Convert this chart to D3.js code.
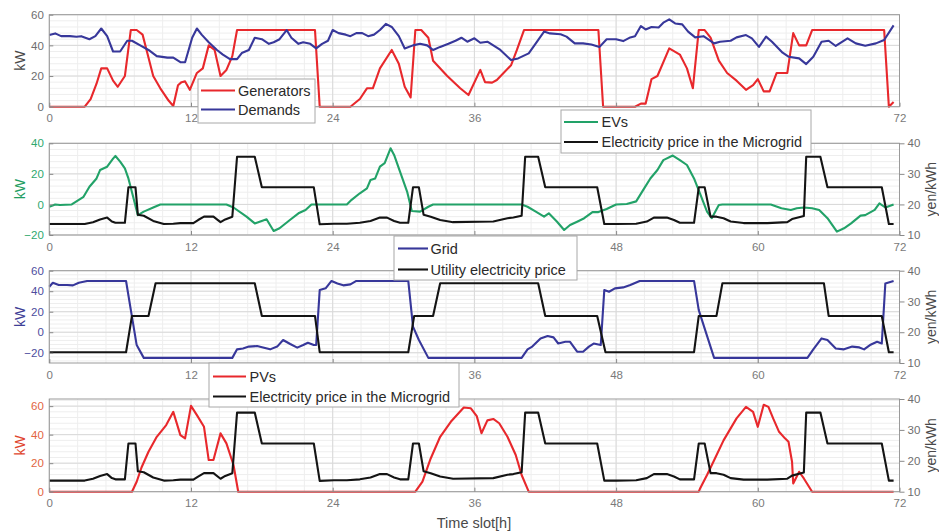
<!DOCTYPE html>
<html>
<head>
<meta charset="utf-8">
<script src="https://cdn.jsdelivr.net/npm/d3@7"></script>
<style>
  html, body { margin: 0; padding: 0; background: #fff; }
  svg { display: block; font-family: "Liberation Sans", Arial, Helvetica, sans-serif; }
</style>
</head>
<body>
<svg id="chart" width="939" height="531"></svg>
<script>
// ---- data: [time slot (h), value] ----
const xTicks = [0, 12, 24, 36, 48, 60, 72];

const generators = [[0,0],[3,0],[3.5,5],[4,15],[4.4,25],[4.9,25],[5.4,17],[5.8,13],[6.4,20],[6.9,50],[7.4,50],[7.9,47],[8.3,35],[8.8,20],[9.4,12],[10.1,4],[10.5,0.5],[10.9,14],[11.2,16],[11.5,16.5],[11.9,11],[12.5,22],[13,25],[13.5,40],[14,37],[14.5,20],[15,24],[15.5,33],[15.9,50],[22.5,50],[22.9,0],[25.5,0],[26.3,5],[26.9,12],[27.4,12],[28,25],[29,37],[29.6,28],[30.1,13],[30.6,6],[31,50],[31.5,50],[32.1,45],[32.5,30],[33.7,20],[34.8,12],[35.5,7.6],[36.5,24],[36.9,16],[37.5,15.7],[37.9,17.4],[39.1,27],[39.6,37],[40.2,50],[46.5,50],[46.9,0],[49.6,0],[50.1,2],[50.5,2],[51,18],[51.5,20],[52.5,38],[53.4,34],[54,25],[54.5,12],[55,50],[55.5,50],[56,45],[56.7,30],[57.4,22],[58.2,17],[59,11],[59.6,14],[60,18],[60.5,10],[61,10],[61.6,22],[62.5,22],[63,48],[63.5,40],[64.1,40],[64.6,50],[70.7,50],[71.1,0],[71.5,3]];

const demands = [[0,46.7],[0.5,47.8],[1,46],[1.75,46],[2.3,45.6],[2.7,46],[3.4,44],[3.9,46],[4.4,51],[4.9,46],[5.4,36],[6,36],[6.6,43],[7,43],[7.7,40],[8.4,37],[9.1,33],[10,32],[10.5,32],[11.1,29],[11.5,29],[12.1,45],[12.5,51],[12.9,47],[13.5,42],[14.2,37],[14.7,34],[15.3,31],[15.9,31],[16.3,35],[16.9,37],[17.4,45],[18,44],[18.6,41],[19,42],[19.5,44],[20.1,50],[20.5,45],[21.1,41],[21.5,42],[22.1,41],[22.6,38],[23.1,41],[23.6,43],[24,50],[24.5,48],[25.1,47],[25.5,46],[26,48],[26.5,48],[27,46],[27.5,47],[28,50],[28.5,54],[29,52],[29.6,46],[30.1,38],[30.8,40],[31.4,41],[32,40],[32.5,37],[33.1,39],[33.8,41],[34.4,43],[34.9,45],[35.4,42.4],[36,44.6],[36.5,41.7],[37.1,42.4],[37.6,40],[38.2,37],[39.1,30.4],[39.7,31.5],[40.6,34.8],[41.2,41.3],[41.9,49],[42.4,47.8],[43.3,47.2],[43.8,45.7],[44.5,41.3],[45.2,41.3],[45.9,40.6],[46.6,39],[47.2,44],[48,44],[48.6,42.8],[49.2,45.2],[49.6,46],[50.1,52.6],[50.5,50.4],[51,52],[51.6,51.7],[52,54.8],[52.5,57],[53,54.3],[53.6,53.7],[54.1,49],[54.7,45.2],[55.4,46],[56.3,41.3],[56.8,42.4],[57.7,43],[58.2,45.2],[59,46.7],[59.5,44.6],[60.1,39],[60.7,45.7],[61.2,42.4],[62.1,35.2],[62.6,32.6],[63.5,31.5],[64.1,27.8],[64.7,32.6],[65.4,42.4],[66,43],[66.6,39.6],[67.6,44.6],[68.3,41.3],[69.1,39.8],[70,41.3],[70.7,43.5],[71.5,53]];

const evs = [[0,-1.5],[0.5,0],[0.9,-0.4],[1.9,0],[2.3,2],[2.9,5],[3.4,11.6],[4,17],[4.3,22.5],[4.9,24.7],[5.4,30],[5.6,31.7],[6,28],[6.4,23.6],[6.7,17],[7.1,5],[7.5,-7],[8,-4.7],[8.8,-2],[9.4,0],[15,0],[15.6,-2],[16.7,-8],[17.4,-12.4],[18.4,-9.7],[19,-17.4],[19.5,-15.6],[20.4,-10],[21.1,-5.8],[21.7,-3.6],[22.2,0],[25.2,0],[25.6,3],[26.3,7.3],[26.9,10.5],[27.2,16],[27.6,17],[28,24.7],[28.4,27],[28.9,36.7],[29.2,32.4],[29.7,21.5],[30.3,8.4],[30.7,-4.3],[31.4,-4.7],[32.1,-1.5],[32.5,0],[40,0],[40.5,-1.5],[41.2,-4.7],[41.9,-8],[42.3,-5.8],[43,-11.3],[43.6,-16.7],[44.1,-13.5],[44.7,-11.3],[45.3,-9],[46,-5],[46.5,-5],[47.2,-3],[48,0],[48.9,0.3],[49.7,2],[50.3,9.5],[50.9,17],[51.5,22.5],[52,29],[52.8,32],[53.4,29],[54,25.8],[54.6,17],[55.1,7.3],[55.7,-4.7],[56.1,-9],[56.7,-0.4],[57,0],[61.1,0],[62,-2.5],[62.8,-3.6],[63.3,-2.5],[63.9,-2],[64.6,-2.5],[65.2,-3.6],[65.9,-9],[66.7,-17.8],[67.3,-15.6],[67.9,-12.4],[68.7,-7.3],[69.1,-7],[69.9,-3.6],[70.3,0.7],[70.8,-2],[71.5,0]];

const microgridPrice = [[0,13.6],[3,13.6],[3.7,14.2],[4.3,15.1],[4.9,15.7],[5.3,14.4],[5.6,14],[6.4,14],[6.7,25.6],[7.3,25.6],[7.5,16.6],[8,16.3],[8.8,14.6],[9.7,13.6],[10.5,13.7],[11.1,13.9],[12.2,13.9],[12.6,14.9],[13.1,16],[13.9,16],[14.5,14.2],[14.9,15.1],[15.5,16],[15.9,35.6],[17.4,35.6],[18,25.6],[22.4,25.6],[22.9,13.5],[24.1,13.7],[25.2,13.7],[26.3,14],[27.2,14.6],[28,15.7],[28.6,15.7],[29.2,14.6],[29.7,14],[30.4,14],[30.8,25.6],[31.3,25.6],[31.7,16.6],[32.3,16],[33.1,14.9],[34.2,14.2],[37.6,14.4],[38.8,15.5],[39.3,15.7],[40,16.3],[40.3,35.6],[41.4,35.6],[42,25.6],[46.4,25.6],[47,13.6],[48,13.6],[49.7,13.7],[50.6,14.4],[51.2,15.7],[52.3,15.7],[52.9,14.9],[53.4,14],[54.6,14],[55,25.6],[55.5,25.6],[56,16],[56.5,16],[57.1,15.5],[57.7,14.4],[58.8,13.9],[60.8,13.9],[62.5,14.2],[62.9,15.2],[63.9,16.2],[64.1,35.6],[65.3,35.6],[65.9,25.6],[70.5,25.6],[71.1,13.6],[71.5,13.6]];

const gridPower = [[0,44.4],[0.3,48.3],[0.8,46],[1.5,46],[2,45.7],[2.5,48.3],[3.2,49.9],[3.7,50],[6.5,50],[6.9,22],[7.4,-12.5],[8,-25],[15.5,-25],[15.9,-16.7],[16.4,-15.8],[16.9,-14],[17.6,-13.5],[18.1,-14.8],[18.7,-16.7],[19.3,-14],[19.8,-7.6],[20.4,-11.5],[21,-15],[21.5,-12.5],[21.9,-10.2],[22.4,-12.5],[22.6,-12.5],[22.9,41.1],[23.4,42.8],[23.9,50],[24.4,47.6],[24.9,45.7],[25.5,46.7],[26,50],[30.4,50],[30.8,5.4],[31.3,-7.6],[32.1,-25],[40,-25],[40.5,-16.7],[40.9,-14],[41.6,-6],[42.2,-3.7],[42.7,-5],[43.1,-11],[43.7,-9.3],[44.1,-9.3],[44.7,-19],[45.2,-19],[45.7,-14],[46.1,-11],[46.7,-12.5],[47,41.1],[47.4,39.5],[47.9,42.8],[48.6,43.7],[49.2,46],[50,50],[54.6,50],[55,21.6],[56.3,-25],[64.2,-25],[64.7,-16.7],[65.4,-6],[65.9,-7.6],[66.6,-15.8],[67.3,-16.7],[68,-14],[68.6,-14.8],[69,-16.7],[69.5,-12.5],[70.1,-9.3],[70.5,-11],[70.8,47.6],[71.5,50]];

const utilityPrice = [[0,13.5],[6.5,13.5],[7,25.3],[8.4,25.3],[9,35.9],[17.4,35.9],[18,25.3],[22.5,25.3],[22.9,13.5],[30.4,13.5],[30.9,25.3],[32.5,25.3],[33.1,35.9],[41.4,35.9],[42,25.3],[46.4,25.3],[47.1,13.5],[54.6,13.5],[55,25.3],[56.5,25.3],[57,35.9],[65.6,35.9],[66,25.3],[70.5,25.3],[71.1,13.5],[71.5,13.5]];

const pvs = [[0,0],[7,0],[7.4,7],[7.8,16.8],[8.4,28],[9.1,38.5],[9.9,46.7],[10.5,56],[11.1,39.7],[11.5,37.4],[12,60.2],[12.5,53.7],[13.1,45.5],[13.5,22.2],[13.9,22.2],[14.5,40.9],[15,33.9],[15.6,18.7],[16,0],[31,0],[31.6,7],[32.3,23.3],[33.1,38.5],[34,49],[35.1,59],[35.7,58.5],[36.2,53],[36.6,41],[37.1,50],[37.6,51],[38.1,48],[38.8,38.5],[39.5,25.7],[40,11.7],[40.6,0],[55,0],[55.1,2],[55.7,11.7],[56.3,22],[57.1,36],[58.2,51.4],[59,59.5],[59.6,56],[60,45.5],[60.5,61],[60.9,59.5],[61.3,51.4],[61.8,42],[62.3,37.4],[62.6,35],[62.9,21],[63,5.8],[63.5,14],[63.9,9.3],[64.6,0],[71.5,0]];

// ---- styling ----
const RED = "#e8282c", BLUE = "#37379a", GREEN = "#22a268", BLACK = "#141414";
const FONT = '"Liberation Sans", Arial, Helvetica, sans-serif';

const svg = d3.select("#chart");
const x = d3.scaleLinear().domain([0, 72]).range([49.3, 899.5]);
const X0 = x.range()[0], X1 = x.range()[1];

// each panel: plot band, axes, series and its legend box; "covered" lists
// time-tick labels that sit underneath the next panel's legend box
const panels = [
  { top: 14.7, bottom: 106.7, left: [0, 60], leftTicks: [0, 20, 40, 60], tickColor: "#6e6e6e", labelColor: "#4a4a4a",
    right: null, covered: [48, 60],
    series: [ { data: generators, color: RED, axis: "left" }, { data: demands, color: BLUE, axis: "left" } ],
    legend: { x: 198, y: 79, w: 117, h: 44, lx: [201, 235], tx: 238, rows: [90.5, 109.5],
      items: [ { name: "Generators", color: RED }, { name: "Demands", color: BLUE } ] } },
  { top: 143.3, bottom: 235, left: [-20, 40], leftTicks: [-20, 0, 20, 40], tickColor: "#2ea86e", labelColor: "#1f9e62",
    right: [10, 40], covered: [36],
    series: [ { data: evs, color: GREEN, axis: "left" }, { data: microgridPrice, color: BLACK, axis: "right" } ],
    legend: { x: 561, y: 110, w: 250, h: 43, lx: [564, 598], tx: 601.5, rows: [122, 142],
      items: [ { name: "EVs", color: GREEN }, { name: "Electricity price in the Microgrid", color: BLACK } ] } },
  { top: 270.7, bottom: 363, left: [-30, 60], leftTicks: [-20, 0, 20, 40, 60], tickColor: "#4d4d9e", labelColor: "#3f3f96",
    right: [10, 40], covered: [24],
    series: [ { data: gridPower, color: BLUE, axis: "left" }, { data: utilityPrice, color: BLACK, axis: "right" } ],
    legend: { x: 394, y: 236, w: 183, h: 44, lx: [398, 428], tx: 430.5, rows: [248.5, 269.5],
      items: [ { name: "Grid", color: BLUE }, { name: "Utility electricity price", color: BLACK } ] } },
  { top: 399, bottom: 491.7, left: [0, 65], leftTicks: [0, 20, 40, 60], tickColor: "#e2653f", labelColor: "#e0452e",
    right: [10, 40], covered: [],
    series: [ { data: pvs, color: RED, axis: "left" }, { data: microgridPrice, color: BLACK, axis: "right" } ],
    legend: { x: 209, y: 363, w: 250, h: 44, lx: [213, 246], tx: 249.5, rows: [376.5, 396.5],
      items: [ { name: "PVs", color: RED }, { name: "Electricity price in the Microgrid", color: BLACK } ] } }
];

const minorX = d3.range(0, 72.001, 2.4);

panels.forEach(p => {
  const g = svg.append("g");
  const yL = d3.scaleLinear().domain(p.left).range([p.bottom, p.top]);
  const yR = p.right ? d3.scaleLinear().domain(p.right).range([p.bottom, p.top]) : null;

  // minor grid
  const minorY = d3.range(Math.ceil(p.left[0] / 4) * 4, p.left[1] + 0.001, 4);
  g.append("g").selectAll("line").data(minorX).join("line")
    .attr("x1", d => x(d)).attr("x2", d => x(d)).attr("y1", p.top).attr("y2", p.bottom)
    .attr("stroke", "#eeeeee").attr("stroke-width", 1);
  g.append("g").selectAll("line").data(minorY).join("line")
    .attr("x1", X0).attr("x2", X1).attr("y1", d => yL(d)).attr("y2", d => yL(d))
    .attr("stroke", "#eeeeee").attr("stroke-width", 1);
  // major grid
  g.append("g").selectAll("line").data(xTicks).join("line")
    .attr("x1", d => x(d)).attr("x2", d => x(d)).attr("y1", p.top).attr("y2", p.bottom)
    .attr("stroke", "#d9d9d9").attr("stroke-width", 1);
  g.append("g").selectAll("line").data(p.leftTicks).join("line")
    .attr("x1", X0).attr("x2", X1).attr("y1", d => yL(d)).attr("y2", d => yL(d))
    .attr("stroke", "#d9d9d9").attr("stroke-width", 1);

  // series
  p.series.forEach(s => {
    const ys = s.axis === "right" ? yR : yL;
    const line = d3.line().x(d => x(d[0])).y(d => ys(d[1]));
    g.append("path").datum(s.data).attr("d", line)
      .attr("fill", "none").attr("stroke", s.color).attr("stroke-width", 2.1)
      .attr("stroke-linejoin", "round");
  });

  // box
  g.append("rect").attr("x", X0).attr("y", p.top).attr("width", X1 - X0).attr("height", p.bottom - p.top)
    .attr("fill", "none").attr("stroke", "#9a9a9a").attr("stroke-width", 1);

  // axes
  const ax = g.append("g").attr("transform", `translate(0,${p.bottom})`)
    .call(d3.axisBottom(x).tickValues(xTicks)
      .tickFormat(d => p.covered.includes(d) ? "" : d3.format("d")(d))
      .tickSizeInner(-4).tickSizeOuter(0).tickPadding(7.5));
  ax.select(".domain").remove();
  ax.selectAll("line").attr("stroke", "#8a8a8a");
  ax.selectAll("text").attr("fill", "#7a7a7a").style("font-size", "11.5px").style("font-family", FONT);

  const ay = g.append("g").attr("transform", `translate(${X0},0)`)
    .call(d3.axisLeft(yL).tickValues(p.leftTicks).tickSizeInner(-4).tickSizeOuter(0).tickPadding(5.5));
  ay.select(".domain").remove();
  ay.selectAll("line").attr("stroke", "#8a8a8a");
  ay.selectAll("text").attr("fill", p.tickColor).style("font-size", "11.5px").style("font-family", FONT);

  g.append("text").attr("transform", `translate(20,${(p.top + p.bottom) / 2}) rotate(-90)`)
    .attr("text-anchor", "middle").attr("dy", "0.35em")
    .attr("fill", p.labelColor).style("font-size", "14px").style("font-family", FONT).text("kW");

  if (yR) {
    const ar = g.append("g").attr("transform", `translate(${X1},0)`)
      .call(d3.axisRight(yR).tickValues([10, 20, 30, 40]).tickSizeInner(5).tickSizeOuter(0).tickPadding(3));
    ar.select(".domain").remove();
    ar.selectAll("line").attr("stroke", "#8a8a8a");
    ar.selectAll("text").attr("fill", "#6e6e6e").style("font-size", "11.5px").style("font-family", FONT);
    g.append("text").attr("transform", `translate(931,${(p.top + p.bottom) / 2}) rotate(-90)`)
      .attr("text-anchor", "middle").attr("dy", "0.35em")
      .attr("fill", "#4a4a4a").style("font-size", "14px").style("font-family", FONT).text("yen/kWh");
  }
});

// x axis title
svg.append("text").attr("x", 474).attr("y", 528).attr("text-anchor", "middle")
  .attr("fill", "#4a4a4a").style("font-size", "14.5px").style("font-family", FONT).text("Time slot[h]");

// legends drawn on top of everything
panels.forEach(p => {
  const L = p.legend;
  const g = svg.append("g");
  g.append("rect").attr("x", L.x).attr("y", L.y).attr("width", L.w).attr("height", L.h)
    .attr("fill", "#ffffff").attr("stroke", "#a8a8a8").attr("stroke-width", 1);
  L.items.forEach((it, i) => {
    g.append("line").attr("x1", L.lx[0]).attr("x2", L.lx[1]).attr("y1", L.rows[i]).attr("y2", L.rows[i])
      .attr("stroke", it.color).attr("stroke-width", 2.1);
    g.append("text").attr("x", L.tx).attr("y", L.rows[i]).attr("dy", "0.36em")
      .attr("fill", "#2a2a2a").style("font-size", "14.5px").style("font-family", FONT).text(it.name);
  });
});
</script>
</body>
</html>
